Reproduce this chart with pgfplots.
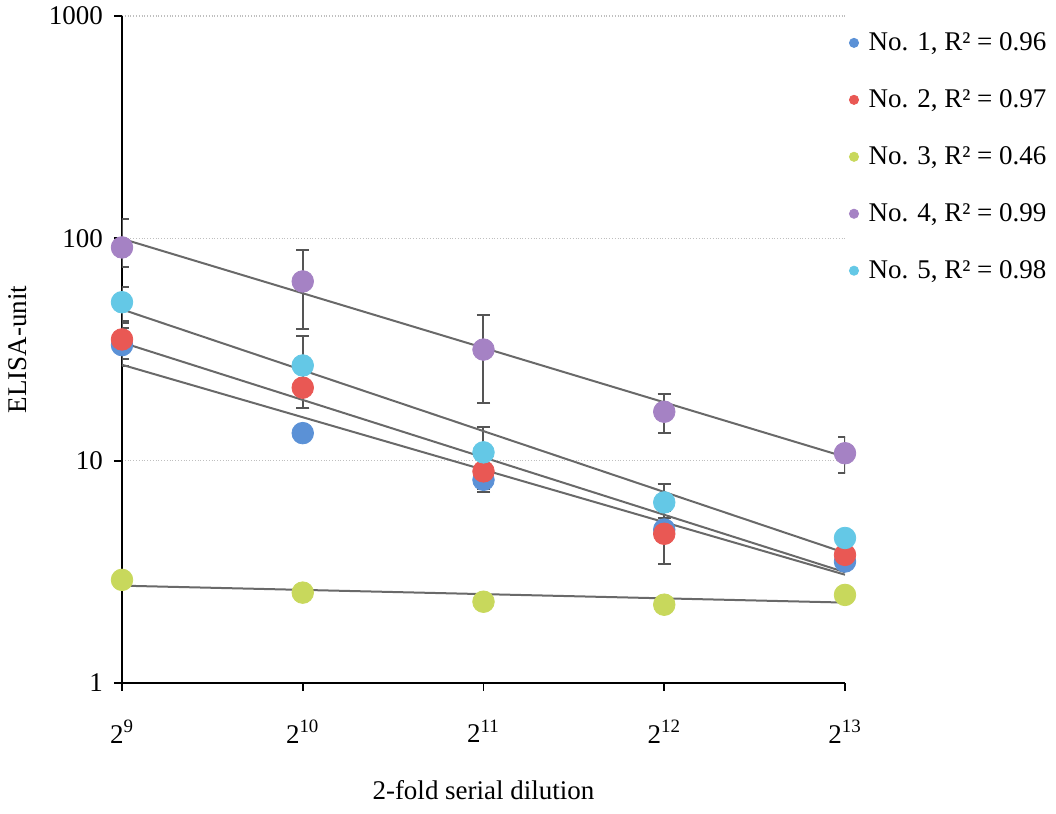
\documentclass[border=0pt]{standalone}
\usepackage{fontspec}
\setmainfont{Liberation Serif}
\usepackage{pgfplots}
\pgfplotsset{compat=1.18}
\definecolor{cblue}{RGB}{91,145,214}
\definecolor{cred}{RGB}{233,88,84}
\definecolor{cgreen}{RGB}{200,216,92}
\definecolor{cpurple}{RGB}{165,130,196}
\definecolor{ccyan}{RGB}{100,200,230}
\definecolor{errgray}{RGB}{85,85,85}
\definecolor{trendgray}{RGB}{105,105,105}
\begin{document}
\begin{tikzpicture}[font=\fontsize{13.5}{16}\selectfont]
\useasboundingbox (-61pt,-65.5pt) rectangle (467pt,341.5pt);
\begin{axis}[
  scale only axis, width=361.5pt, height=333.5pt,
  ymode=log, ymin=1, ymax=1000, xmin=0, xmax=4,
  axis lines=left, axis line style={-, line width=1pt, black},
  xtick={0,1,2,3,4},
  xticklabels={2\textsuperscript{9},2\textsuperscript{10},2\textsuperscript{11},2\textsuperscript{12},2\textsuperscript{13}},
  ytick={1,10,100,1000}, yticklabels={1,10,100,1000},
  yminorticks=false,
  tick align=outside, major tick length=4pt,
  tick style={black, line width=0.9pt},
  ymajorgrids, grid style={densely dotted, black!25, line width=0.6pt},
  xticklabel style={yshift=-11pt},
  yticklabel style={xshift=-2pt},
  xlabel={2-fold serial dilution}, ylabel={ELISA-unit},
  xlabel style={yshift=-12pt},
  ylabel style={yshift=4pt},
  legend style={draw=none, fill=none, at={(1,1)}, anchor=north west,
    xshift=-1pt, yshift=-4pt, row sep=14pt, font=\fontsize{13.5}{16}\selectfont,
    /tikz/every even column/.append style={column sep=0pt},
    /tikz/every odd column/.append style={column sep=3pt}},
  legend cell align=left,
  legend image code/.code={\draw[#1] plot coordinates {(0pt,0pt)};},
  legend image post style={mark size=2.3pt},
  every axis plot/.append style={
    error bars/error bar style={line width=1pt, color=errgray},
    error bars/error mark options={rotate=90, mark size=3.3pt, line width=1pt, color=errgray}},
]
\addplot[only marks, mark=*, mark size=5.4pt, color=cblue,
  error bars/.cd, y dir=both, y explicit]
  coordinates {(0,33.1) +- (0,6.5) (1,13.3) +- (0,0.8) (2,8.2) +- (0,1.0) (3,4.9) +- (0,0.6) (4,3.52) +- (0,0.3)};
\addlegendentry{No. 1, R² = 0.96}
\addplot[only marks, mark=*, mark size=5.4pt, color=cred,
  error bars/.cd, y dir=both, y explicit]
  coordinates {(0,35.1) +- (0,6.5) (1,21.3) +- (0,4) (2,8.95) +- (0,1.5) (3,4.69) +- (0,1.27) (4,3.77) +- (0,0.3)};
\addlegendentry{No. 2, R² = 0.97}
\addplot[only marks, mark=*, mark size=5.4pt, color=cgreen]
  coordinates {(0,2.91) (1,2.55) (2,2.32) (3,2.25) (4,2.49)};
\addlegendentry{No. 3, R² = 0.46}
\addplot[only marks, mark=*, mark size=5.4pt, color=cpurple,
  error bars/.cd, y dir=both, y explicit]
  coordinates {(0,91) += (0,31) -= (0,17) (1,64) +- (0,25) (2,31.6) +- (0,13.5) (3,16.6) +- (0,3.3) (4,10.8) +- (0,2)};
\addlegendentry{No. 4, R² = 0.99}
\addplot[only marks, mark=*, mark size=5.4pt, color=ccyan,
  error bars/.cd, y dir=both, y explicit]
  coordinates {(0,51.6) +- (0,9) (1,26.8) +- (0,9.5) (2,10.9) +- (0,3.2) (3,6.49) +- (0,1.4) (4,4.49) +- (0,0.4)};
\addlegendentry{No. 5, R² = 0.98}
% trend lines
\addplot[forget plot, trendgray, line width=1pt] coordinates {(0,27) (4,3.07)};
\addplot[forget plot, trendgray, line width=1pt] coordinates {(0,34) (4,3.15)};
\addplot[forget plot, trendgray, line width=1pt] coordinates {(0,2.74) (4,2.3)};
\addplot[forget plot, trendgray, line width=1pt] coordinates {(0,99.6) (4,10.4)};
\addplot[forget plot, trendgray, line width=1pt] coordinates {(0,47.9) (4,3.85)};
\end{axis}
\end{tikzpicture}
\end{document}
